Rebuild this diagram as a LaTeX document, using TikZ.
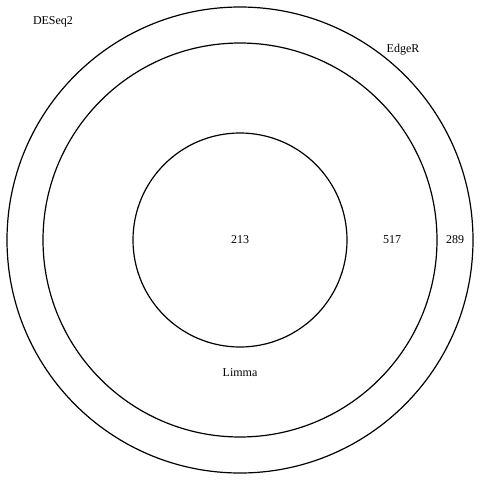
\documentclass[tikz,border=0pt]{standalone}
\usepackage{fontspec}
\setmainfont{Liberation Serif}
\usetikzlibrary{positioning}
\tikzset{
  setcircle/.style = {circle, draw=black, line width=1.2pt, inner sep=0pt},
  setlabel/.style = {font=\fontsize{12}{14}\selectfont, inner sep=0pt},
  countlabel/.style = {font=\fontsize{12}{14}\selectfont, inner sep=0pt}
}

\begin{document}
\begin{tikzpicture}[x=1pt, y=-1pt]
\useasboundingbox (0,0) rectangle (480,480);
\node[setcircle, minimum size=466pt] (deseq) at (240,240) {};
\node[setcircle, minimum size=394pt] (edger) at (240,240) {};
\node[setcircle, minimum size=214pt] (limma) at (240,240) {};

\node[setlabel] (deseqname) at (53,22) {DESeq2};
\node[setlabel] (edgername) at (403,50) {EdgeR};
\node[setlabel] (limmaname) at (240,373) {Limma};

\node[countlabel] (nlimma) at (limma.center) {213};
\node[countlabel] (nedger) at (392,240) {517};
\node[countlabel] (ndeseq) at (455,240) {289};
\end{tikzpicture}
\end{document}
